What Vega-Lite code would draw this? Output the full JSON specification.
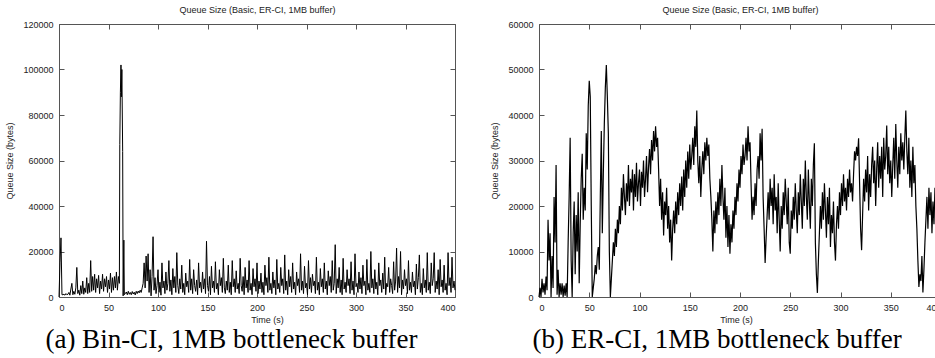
{
  "$schema": "https://vega.github.io/schema/vega-lite/v6.json",
  "background": "white",
  "padding": {"left": 5, "top": 5, "right": 0, "bottom": 0},
  "bounds": "flush",
  "spacing": 84,
  "config": {
    "font": "Liberation Sans",
    "view": {"stroke": "#555", "strokeWidth": 1},
    "axis": {"grid": false, "domain": false, "tickColor": "#555", "tickSize": -5, "labelFontSize": 9, "labelColor": "#222", "titleFontSize": 9, "titleFontWeight": "normal", "titleColor": "#222", "labelFont": "Liberation Sans", "titleFont": "Liberation Sans"}
  },
  "datasets": {
    "bin": [
      {"t":0,"q":0},{"t":1,"q":15000},{"t":2,"q":26000},{"t":3,"q":1000},{"t":4,"q":1000},{"t":5,"q":1200},{"t":6,"q":800},{"t":7,"q":1500},{"t":8,"q":1000},{"t":9,"q":1200},
      {"t":10,"q":2000},{"t":11,"q":800},{"t":12,"q":3500},{"t":13,"q":6000},{"t":14,"q":1000},{"t":15,"q":2500},{"t":16,"q":1200},{"t":17,"q":4000},{"t":18,"q":13000},{"t":19,"q":1500},
      {"t":20,"q":3000},{"t":21,"q":800},{"t":22,"q":5000},{"t":23,"q":1500},{"t":24,"q":7000},{"t":25,"q":1200},{"t":26,"q":4000},{"t":27,"q":2000},{"t":28,"q":8500},{"t":29,"q":1500},
      {"t":30,"q":6000},{"t":31,"q":2000},{"t":32,"q":16000},{"t":33,"q":2500},{"t":34,"q":9000},{"t":35,"q":3000},{"t":36,"q":10000},{"t":37,"q":2000},{"t":38,"q":8000},{"t":39,"q":4000},
      {"t":40,"q":9500},{"t":41,"q":1500},{"t":42,"q":7000},{"t":43,"q":3500},{"t":44,"q":10000},{"t":45,"q":2500},{"t":46,"q":8000},{"t":47,"q":4500},{"t":48,"q":9000},{"t":49,"q":2000},
      {"t":50,"q":7500},{"t":51,"q":3500},{"t":52,"q":10500},{"t":53,"q":2000},{"t":54,"q":8500},{"t":55,"q":3000},{"t":56,"q":9000},{"t":57,"q":4000},{"t":58,"q":11000},{"t":59,"q":3000},
      {"t":60,"q":9000},{"t":61,"q":6000},{"t":61.4,"q":67000},{"t":62,"q":90000},{"t":62.6,"q":102000},{"t":63,"q":88000},{"t":63.5,"q":100000},{"t":64.3,"q":64000},{"t":64.8,"q":500},{"t":65.5,"q":25000},{"t":66,"q":1000},
      {"t":67,"q":1500},{"t":68,"q":2200},{"t":69,"q":1000},{"t":70,"q":2500},{"t":71,"q":1200},{"t":72,"q":2000},{"t":73,"q":1000},{"t":74,"q":2400},{"t":75,"q":1300},{"t":76,"q":2100},
      {"t":77,"q":900},{"t":78,"q":2500},{"t":79,"q":1500},{"t":80,"q":2600},{"t":81,"q":1800},{"t":82,"q":3000},{"t":83,"q":2000},{"t":84,"q":4000},{"t":85,"q":6000},{"t":86,"q":15000},
      {"t":87,"q":4000},{"t":88,"q":18000},{"t":89,"q":7000},{"t":90,"q":19000},{"t":91,"q":2000},{"t":92,"q":12000},{"t":93,"q":500},{"t":94,"q":9000},{"t":95,"q":26500},
      {"t":96,"q":3000},{"t":97,"q":8500},{"t":98,"q":1500},{"t":99,"q":5000},{"t":100,"q":12000},{"t":101,"q":2000},{"t":102,"q":6500},{"t":103,"q":800},{"t":104,"q":15000},{"t":105,"q":4000},
      {"t":106,"q":7000},{"t":107,"q":1500},{"t":108,"q":11000},{"t":109,"q":3000},{"t":110,"q":6000},{"t":111,"q":16000},{"t":112,"q":2500},{"t":113,"q":7500},{"t":114,"q":1000},{"t":115,"q":12500},
      {"t":116,"q":4000},{"t":117,"q":9000},{"t":118,"q":2000},{"t":119,"q":19500},{"t":120,"q":5000},{"t":121,"q":1500},{"t":122,"q":8000},{"t":123,"q":3500},{"t":124,"q":14000},{"t":125,"q":2000},
      {"t":126,"q":6000},{"t":127,"q":1000},{"t":128,"q":10500},{"t":129,"q":4500},{"t":130,"q":7000},{"t":131,"q":2000},{"t":132,"q":16500},{"t":133,"q":3000},{"t":134,"q":8000},{"t":135,"q":1500},
      {"t":136,"q":12000},{"t":137,"q":5000},{"t":138,"q":2500},{"t":139,"q":7500},{"t":140,"q":1000},{"t":141,"q":15000},{"t":142,"q":4000},{"t":143,"q":6500},{"t":144,"q":2000},{"t":145,"q":11000},
      {"t":146,"q":3500},{"t":147,"q":8000},{"t":148,"q":1500},{"t":149,"q":24500},{"t":150,"q":5000},{"t":151,"q":2500},{"t":152,"q":9000},{"t":153,"q":1000},{"t":154,"q":13500},{"t":155,"q":4000},
      {"t":156,"q":7000},{"t":157,"q":2000},{"t":158,"q":15500},{"t":159,"q":3500},{"t":160,"q":6000},{"t":161,"q":1000},{"t":162,"q":12000},{"t":163,"q":5000},{"t":164,"q":8500},{"t":165,"q":2000},
      {"t":166,"q":17000},{"t":167,"q":4000},{"t":168,"q":1500},{"t":169,"q":7000},{"t":170,"q":3000},{"t":171,"q":14000},{"t":172,"q":2000},{"t":173,"q":6500},{"t":174,"q":1000},{"t":175,"q":16000},
      {"t":176,"q":4500},{"t":177,"q":8000},{"t":178,"q":2000},{"t":179,"q":11500},{"t":180,"q":3500},{"t":181,"q":6000},{"t":182,"q":1500},{"t":183,"q":17000},{"t":184,"q":5000},{"t":185,"q":2500},
      {"t":186,"q":9000},{"t":187,"q":1000},{"t":188,"q":13000},{"t":189,"q":4000},{"t":190,"q":7500},{"t":191,"q":2000},{"t":192,"q":16000},{"t":193,"q":3000},{"t":194,"q":6000},{"t":195,"q":1000},
      {"t":196,"q":12500},{"t":197,"q":4500},{"t":198,"q":8000},{"t":199,"q":2500},{"t":200,"q":15000},{"t":201,"q":1500},{"t":202,"q":7000},{"t":203,"q":3500},{"t":204,"q":10500},{"t":205,"q":2000},
      {"t":206,"q":6500},{"t":207,"q":1000},{"t":208,"q":14000},{"t":209,"q":5000},{"t":210,"q":8500},{"t":211,"q":2000},{"t":212,"q":17500},{"t":213,"q":3000},{"t":214,"q":6000},{"t":215,"q":1500},
      {"t":216,"q":11000},{"t":217,"q":4000},{"t":218,"q":7500},{"t":219,"q":1000},{"t":220,"q":16500},{"t":221,"q":3500},{"t":222,"q":6000},{"t":223,"q":2000},{"t":224,"q":13000},{"t":225,"q":5000},
      {"t":226,"q":8000},{"t":227,"q":1500},{"t":228,"q":18500},{"t":229,"q":3000},{"t":230,"q":7000},{"t":231,"q":1000},{"t":232,"q":12000},{"t":233,"q":4500},{"t":234,"q":9000},{"t":235,"q":2000},
      {"t":236,"q":15000},{"t":237,"q":3500},{"t":238,"q":6500},{"t":239,"q":1000},{"t":240,"q":11000},{"t":241,"q":5000},{"t":242,"q":8000},{"t":243,"q":2000},{"t":244,"q":19000},{"t":245,"q":3000},
      {"t":246,"q":7000},{"t":247,"q":1500},{"t":248,"q":13500},{"t":249,"q":4000},{"t":250,"q":6000},{"t":251,"q":1000},{"t":252,"q":16000},{"t":253,"q":3500},{"t":254,"q":8500},{"t":255,"q":2000},
      {"t":256,"q":10000},{"t":257,"q":5000},{"t":258,"q":7000},{"t":259,"q":1500},{"t":260,"q":17500},{"t":261,"q":3000},{"t":262,"q":6500},{"t":263,"q":1000},{"t":264,"q":12500},{"t":265,"q":4500},
      {"t":266,"q":8000},{"t":267,"q":2000},{"t":268,"q":15000},{"t":269,"q":3500},{"t":270,"q":7000},{"t":271,"q":1000},{"t":272,"q":11500},{"t":273,"q":5000},{"t":274,"q":9000},{"t":275,"q":2000},
      {"t":276,"q":16000},{"t":277,"q":3000},{"t":278,"q":6000},{"t":279,"q":23000},{"t":280,"q":1500},{"t":281,"q":8000},{"t":282,"q":4000},{"t":283,"q":13000},{"t":284,"q":2000},{"t":285,"q":7500},
      {"t":286,"q":1000},{"t":287,"q":17000},{"t":288,"q":3500},{"t":289,"q":6500},{"t":290,"q":2000},{"t":291,"q":12000},{"t":292,"q":5000},{"t":293,"q":8000},{"t":294,"q":1500},{"t":295,"q":15500},
      {"t":296,"q":3000},{"t":297,"q":7000},{"t":298,"q":1000},{"t":299,"q":19000},{"t":300,"q":4500},{"t":301,"q":6000},{"t":302,"q":2000},{"t":303,"q":11000},{"t":304,"q":3500},{"t":305,"q":8500},
      {"t":306,"q":1500},{"t":307,"q":14000},{"t":308,"q":5000},{"t":309,"q":7000},{"t":310,"q":1000},{"t":311,"q":16500},{"t":312,"q":3000},{"t":313,"q":6000},{"t":314,"q":2000},{"t":315,"q":20000},
      {"t":316,"q":4000},{"t":317,"q":8000},{"t":318,"q":1500},{"t":319,"q":12000},{"t":320,"q":3500},{"t":321,"q":6500},{"t":322,"q":1000},{"t":323,"q":15000},{"t":324,"q":5000},{"t":325,"q":7500},
      {"t":326,"q":2000},{"t":327,"q":10500},{"t":328,"q":3500},{"t":329,"q":17500},{"t":330,"q":1000},{"t":331,"q":6000},{"t":332,"q":4500},{"t":333,"q":13000},{"t":334,"q":2000},{"t":335,"q":8000},
      {"t":336,"q":5000},{"t":337,"q":1500},{"t":338,"q":15500},{"t":339,"q":3000},{"t":340,"q":7000},{"t":341,"q":21500},{"t":342,"q":2000},{"t":343,"q":9000},{"t":344,"q":4000},{"t":345,"q":20000},
      {"t":346,"q":1000},{"t":347,"q":7500},{"t":348,"q":3500},{"t":349,"q":12000},{"t":350,"q":5000},{"t":351,"q":8000},{"t":352,"q":1500},{"t":353,"q":16000},{"t":354,"q":3000},{"t":355,"q":6500},
      {"t":356,"q":2000},{"t":357,"q":11000},{"t":358,"q":4500},{"t":359,"q":7000},{"t":360,"q":1000},{"t":361,"q":14500},{"t":362,"q":3500},{"t":363,"q":8500},{"t":364,"q":18500},{"t":365,"q":2000},
      {"t":366,"q":6000},{"t":367,"q":1000},{"t":368,"q":12500},{"t":369,"q":4000},{"t":370,"q":7500},{"t":371,"q":2000},{"t":372,"q":19500},{"t":373,"q":3000},{"t":374,"q":6500},{"t":375,"q":1500},
      {"t":376,"q":15000},{"t":377,"q":5000},{"t":378,"q":8000},{"t":379,"q":19500},{"t":380,"q":2000},{"t":381,"q":7000},{"t":382,"q":3500},{"t":383,"q":12000},{"t":384,"q":1000},{"t":385,"q":16500},
      {"t":386,"q":4500},{"t":387,"q":7500},{"t":388,"q":2000},{"t":389,"q":14000},{"t":390,"q":3000},{"t":391,"q":6000},{"t":392,"q":1000},{"t":393,"q":19500},{"t":394,"q":5000},{"t":395,"q":8500},
      {"t":396,"q":2000},{"t":397,"q":17500},{"t":398,"q":4000},{"t":399,"q":7000},{"t":400,"q":3000}
    ],
    "er": [
      {"t":0,"q":0},{"t":1,"q":2000},{"t":2,"q":0},{"t":3,"q":4000},{"t":4,"q":1000},{"t":5,"q":3000},{"t":6,"q":500},{"t":7,"q":4500},{"t":8,"q":1500},{"t":9,"q":17000},
      {"t":10,"q":8000},{"t":11,"q":14000},{"t":12,"q":0},{"t":13,"q":9000},{"t":14,"q":2000},{"t":15,"q":22000},{"t":16,"q":12000},{"t":17,"q":29000},{"t":18,"q":500},{"t":19,"q":6000},
      {"t":20,"q":0},{"t":21,"q":3000},{"t":22,"q":500},{"t":23,"q":3000},{"t":24,"q":0},{"t":25,"q":2500},{"t":26,"q":300},{"t":27,"q":3000},{"t":28,"q":0},{"t":29,"q":12000},
      {"t":30,"q":22000},{"t":31,"q":35000},{"t":32,"q":8000},{"t":33,"q":0},{"t":34,"q":14000},{"t":35,"q":21000},{"t":36,"q":5000},{"t":37,"q":18000},{"t":38,"q":10000},{"t":39,"q":23000},
      {"t":40,"q":3000},{"t":41,"q":16000},{"t":42,"q":26000},{"t":43,"q":31500},{"t":44,"q":17000},{"t":45,"q":24000},{"t":46,"q":19000},{"t":47,"q":36000},{"t":48,"q":28000},{"t":49,"q":42000},
      {"t":50,"q":47500},{"t":51,"q":44000},{"t":52,"q":20000},{"t":53,"q":0},{"t":54,"q":2000},{"t":55,"q":4000},{"t":56,"q":7000},{"t":57,"q":5000},{"t":58,"q":9000},{"t":59,"q":11000},
      {"t":60,"q":6000},{"t":61,"q":22000},{"t":62,"q":36500},{"t":63,"q":14000},{"t":64,"q":27000},{"t":65,"q":38000},{"t":66,"q":46000},{"t":67,"q":51000},{"t":68,"q":44000},{"t":69,"q":36000},
      {"t":70,"q":10000},{"t":71,"q":0},{"t":72,"q":4000},{"t":73,"q":8000},{"t":74,"q":12000},{"t":75,"q":9000},{"t":76,"q":15000},{"t":77,"q":11000},{"t":78,"q":17000},{"t":79,"q":14000},
      {"t":80,"q":20000},{"t":81,"q":16000},{"t":82,"q":24000},{"t":83,"q":19000},{"t":84,"q":27000},{"t":85,"q":22000},{"t":86,"q":18000},{"t":87,"q":25000},{"t":88,"q":21000},{"t":89,"q":29000},
      {"t":90,"q":20000},{"t":91,"q":26000},{"t":92,"q":23000},{"t":93,"q":28000},{"t":94,"q":19000},{"t":95,"q":27000},{"t":96,"q":22000},{"t":97,"q":29500},{"t":98,"q":21000},{"t":99,"q":25000},
      {"t":100,"q":28000},{"t":101,"q":20000},{"t":102,"q":27500},{"t":103,"q":24000},{"t":104,"q":30000},{"t":105,"q":22000},{"t":106,"q":26000},{"t":107,"q":31000},{"t":108,"q":23000},{"t":109,"q":28500},
      {"t":110,"q":32500},{"t":111,"q":27000},{"t":112,"q":34500},{"t":113,"q":30000},{"t":114,"q":36500},{"t":115,"q":32000},{"t":116,"q":37500},{"t":117,"q":33000},{"t":118,"q":35000},{"t":119,"q":28000},
      {"t":120,"q":20000},{"t":121,"q":26000},{"t":122,"q":17000},{"t":123,"q":23000},{"t":124,"q":13500},{"t":125,"q":21000},{"t":126,"q":18000},{"t":127,"q":24000},{"t":128,"q":15000},{"t":129,"q":20000},
      {"t":130,"q":12000},{"t":131,"q":17000},{"t":132,"q":8000},{"t":133,"q":15000},{"t":134,"q":19000},{"t":135,"q":14000},{"t":136,"q":21000},{"t":137,"q":16000},{"t":138,"q":23000},{"t":139,"q":18000},
      {"t":140,"q":25000},{"t":141,"q":20000},{"t":142,"q":26500},{"t":143,"q":19000},{"t":144,"q":28000},{"t":145,"q":22000},{"t":146,"q":30000},{"t":147,"q":24000},{"t":148,"q":32000},{"t":149,"q":26000},
      {"t":150,"q":33500},{"t":151,"q":28000},{"t":152,"q":31000},{"t":153,"q":35000},{"t":154,"q":29000},{"t":155,"q":37500},{"t":156,"q":33000},{"t":157,"q":41000},{"t":158,"q":30000},{"t":159,"q":25000},
      {"t":160,"q":31000},{"t":161,"q":22000},{"t":162,"q":28000},{"t":163,"q":32000},{"t":164,"q":27000},{"t":165,"q":34000},{"t":166,"q":30000},{"t":167,"q":35000},{"t":168,"q":31000},{"t":169,"q":33500},
      {"t":170,"q":26000},{"t":171,"q":22000},{"t":172,"q":17000},{"t":173,"q":10000},{"t":174,"q":19000},{"t":175,"q":14000},{"t":176,"q":21000},{"t":177,"q":16000},{"t":178,"q":23000},{"t":179,"q":18000},
      {"t":180,"q":26000},{"t":181,"q":20000},{"t":182,"q":29000},{"t":183,"q":22000},{"t":184,"q":17000},{"t":185,"q":24000},{"t":186,"q":13000},{"t":187,"q":20000},{"t":188,"q":11000},{"t":189,"q":18000},
      {"t":190,"q":9500},{"t":191,"q":16000},{"t":192,"q":12000},{"t":193,"q":19000},{"t":194,"q":15000},{"t":195,"q":22000},{"t":196,"q":18000},{"t":197,"q":25000},{"t":198,"q":21000},{"t":199,"q":28000},
      {"t":200,"q":24000},{"t":201,"q":31000},{"t":202,"q":27000},{"t":203,"q":33500},{"t":204,"q":29000},{"t":205,"q":31000},{"t":206,"q":35000},{"t":207,"q":30000},{"t":208,"q":37500},{"t":209,"q":32000},
      {"t":210,"q":34000},{"t":211,"q":25000},{"t":212,"q":17000},{"t":213,"q":22000},{"t":214,"q":18000},{"t":215,"q":25000},{"t":216,"q":20000},{"t":217,"q":28000},{"t":218,"q":31000},{"t":219,"q":26000},
      {"t":220,"q":36000},{"t":221,"q":30000},{"t":222,"q":37000},{"t":223,"q":22000},{"t":224,"q":15000},{"t":225,"q":7500},{"t":226,"q":13000},{"t":227,"q":18000},{"t":228,"q":23000},{"t":229,"q":17000},
      {"t":230,"q":26000},{"t":231,"q":20000},{"t":232,"q":24000},{"t":233,"q":16000},{"t":234,"q":27000},{"t":235,"q":19000},{"t":236,"q":22000},{"t":237,"q":14000},{"t":238,"q":25000},{"t":239,"q":17000},
      {"t":240,"q":10000},{"t":241,"q":20000},{"t":242,"q":15000},{"t":243,"q":23000},{"t":244,"q":18000},{"t":245,"q":26000},{"t":246,"q":21000},{"t":247,"q":16000},{"t":248,"q":24000},{"t":249,"q":12000},
      {"t":250,"q":9500},{"t":251,"q":19000},{"t":252,"q":15000},{"t":253,"q":22000},{"t":254,"q":17000},{"t":255,"q":25000},{"t":256,"q":19000},{"t":257,"q":14000},{"t":258,"q":23000},{"t":259,"q":18000},
      {"t":260,"q":27000},{"t":261,"q":21000},{"t":262,"q":15000},{"t":263,"q":26000},{"t":264,"q":20000},{"t":265,"q":30000},{"t":266,"q":22000},{"t":267,"q":17000},{"t":268,"q":28000},{"t":269,"q":21000},
      {"t":270,"q":15000},{"t":271,"q":26000},{"t":272,"q":20000},{"t":273,"q":29000},{"t":274,"q":33800},{"t":275,"q":12000},{"t":276,"q":5000},{"t":277,"q":900},{"t":278,"q":8000},{"t":279,"q":14000},
      {"t":280,"q":20000},{"t":281,"q":15000},{"t":282,"q":23000},{"t":283,"q":17000},{"t":284,"q":25000},{"t":285,"q":19000},{"t":286,"q":13000},{"t":287,"q":22000},{"t":288,"q":16000},{"t":289,"q":24000},
      {"t":290,"q":11000},{"t":291,"q":18000},{"t":292,"q":14000},{"t":293,"q":21000},{"t":294,"q":12000},{"t":295,"q":8000},{"t":296,"q":16000},{"t":297,"q":20000},{"t":298,"q":15000},{"t":299,"q":23000},
      {"t":300,"q":18000},{"t":301,"q":25000},{"t":302,"q":20000},{"t":303,"q":27000},{"t":304,"q":21000},{"t":305,"q":24000},{"t":306,"q":19000},{"t":307,"q":26000},{"t":308,"q":22000},{"t":309,"q":28000},
      {"t":310,"q":23000},{"t":311,"q":25000},{"t":312,"q":21000},{"t":313,"q":27000},{"t":314,"q":32000},{"t":315,"q":30000},{"t":316,"q":33000},{"t":317,"q":31000},{"t":318,"q":34900},{"t":319,"q":25000},
      {"t":320,"q":15000},{"t":321,"q":10300},{"t":322,"q":18000},{"t":323,"q":26000},{"t":324,"q":21000},{"t":325,"q":28000},{"t":326,"q":23000},{"t":327,"q":31000},{"t":328,"q":19000},{"t":329,"q":27000},
      {"t":330,"q":22000},{"t":331,"q":29000},{"t":332,"q":33000},{"t":333,"q":25000},{"t":334,"q":30000},{"t":335,"q":20000},{"t":336,"q":28000},{"t":337,"q":34000},{"t":338,"q":24000},{"t":339,"q":31000},
      {"t":340,"q":26000},{"t":341,"q":33000},{"t":342,"q":22000},{"t":343,"q":35000},{"t":344,"q":28000},{"t":345,"q":31000},{"t":346,"q":37700},{"t":347,"q":27000},{"t":348,"q":33000},{"t":349,"q":25000},
      {"t":350,"q":30000},{"t":351,"q":22000},{"t":352,"q":29000},{"t":353,"q":35000},{"t":354,"q":26000},{"t":355,"q":38000},{"t":356,"q":30000},{"t":357,"q":24000},{"t":358,"q":33000},{"t":359,"q":27000},
      {"t":360,"q":36000},{"t":361,"q":30000},{"t":362,"q":34000},{"t":363,"q":28000},{"t":364,"q":35000},{"t":365,"q":41000},{"t":366,"q":32000},{"t":367,"q":27000},{"t":368,"q":35000},{"t":369,"q":24000},
      {"t":370,"q":30000},{"t":371,"q":22000},{"t":372,"q":33000},{"t":373,"q":25000},{"t":374,"q":29000},{"t":375,"q":20000},{"t":376,"q":15000},{"t":377,"q":8000},{"t":378,"q":2200},{"t":379,"q":5000},
      {"t":380,"q":3500},{"t":381,"q":9000},{"t":382,"q":1000},{"t":383,"q":6000},{"t":384,"q":12000},{"t":385,"q":17000},{"t":386,"q":22000},{"t":387,"q":15000},{"t":388,"q":24000},{"t":389,"q":18000},
      {"t":390,"q":23000},{"t":391,"q":14000},{"t":392,"q":21000},{"t":393,"q":16000},{"t":394,"q":24000},{"t":395,"q":19000},{"t":396,"q":22000},{"t":397,"q":15000},{"t":398,"q":20000},{"t":399,"q":17000},
      {"t":400,"q":21000}
    ]
  },
  "hconcat": [
    {
      "width": 396,
      "height": 273,
      "data": {"name": "bin"},
      "title": {"text": "(a) Bin-CI, 1MB bottleneck buffer", "orient": "bottom", "anchor": "middle", "frame": "bounds", "font": "Liberation Serif", "fontSize": 27, "fontWeight": "normal", "color": "black", "offset": 3},
      "layer": [
        {
          "mark": {"type": "line", "stroke": "black", "strokeWidth": 1},
          "encoding": {
            "x": {"field": "t", "type": "quantitative", "scale": {"domain": [0, 400], "nice": false, "zero": false},
                  "axis": {"orient": "bottom", "values": [0, 50, 100, 150, 200, 250, 300, 350, 400], "title": "Time (s)", "labelPadding": 11, "titlePadding": 3, "titleX": 208}},
            "y": {"field": "q", "type": "quantitative", "scale": {"domain": [0, 120000], "nice": false},
                  "axis": {"orient": "left", "values": [0, 20000, 40000, 60000, 80000, 100000, 120000], "format": "d", "title": "Queue Size (bytes)", "labelPadding": 11, "titlePadding": 8}}
          }
        },
        {
          "mark": {"type": "line", "strokeOpacity": 0},
          "encoding": {
            "x": {"field": "t", "type": "quantitative",
                  "axis": {"orient": "top", "labels": false, "values": [0, 50, 100, 150, 200, 250, 300, 350, 400], "title": "Queue Size (Basic, ER-CI, 1MB buffer)", "titlePadding": 9}},
            "y": {"field": "q", "type": "quantitative",
                  "axis": {"orient": "right", "labels": false, "values": [0, 20000, 40000, 60000, 80000, 100000, 120000], "title": null}}
          }
        }
      ],
      "resolve": {"axis": {"x": "independent", "y": "independent"}}
    },
    {
      "width": 402,
      "height": 273,
      "data": {"name": "er"},
      "title": {"text": "(b) ER-CI, 1MB bottleneck buffer", "orient": "bottom", "anchor": "middle", "frame": "bounds", "font": "Liberation Serif", "fontSize": 27, "fontWeight": "normal", "color": "black", "offset": 3},
      "layer": [
        {
          "mark": {"type": "line", "stroke": "black", "strokeWidth": 1.2},
          "encoding": {
            "x": {"field": "t", "type": "quantitative", "scale": {"domain": [0, 400], "nice": false, "zero": false},
                  "axis": {"orient": "bottom", "values": [0, 50, 100, 150, 200, 250, 300, 350, 400], "title": "Time (s)", "labelPadding": 11, "titlePadding": 3, "titleX": 197}},
            "y": {"field": "q", "type": "quantitative", "scale": {"domain": [0, 60000], "nice": false},
                  "axis": {"orient": "left", "values": [0, 10000, 20000, 30000, 40000, 50000, 60000], "format": "d", "title": "Queue Size (bytes)", "labelPadding": 11, "titlePadding": 8}}
          }
        },
        {
          "mark": {"type": "line", "strokeOpacity": 0},
          "encoding": {
            "x": {"field": "t", "type": "quantitative",
                  "axis": {"orient": "top", "labels": false, "values": [0, 50, 100, 150, 200, 250, 300, 350, 400], "title": "Queue Size (Basic, ER-CI, 1MB buffer)", "titlePadding": 9}},
            "y": {"field": "q", "type": "quantitative",
                  "axis": {"orient": "right", "labels": false, "values": [0, 10000, 20000, 30000, 40000, 50000, 60000], "title": null}}
          }
        }
      ],
      "resolve": {"axis": {"x": "independent", "y": "independent"}}
    }
  ]
}
